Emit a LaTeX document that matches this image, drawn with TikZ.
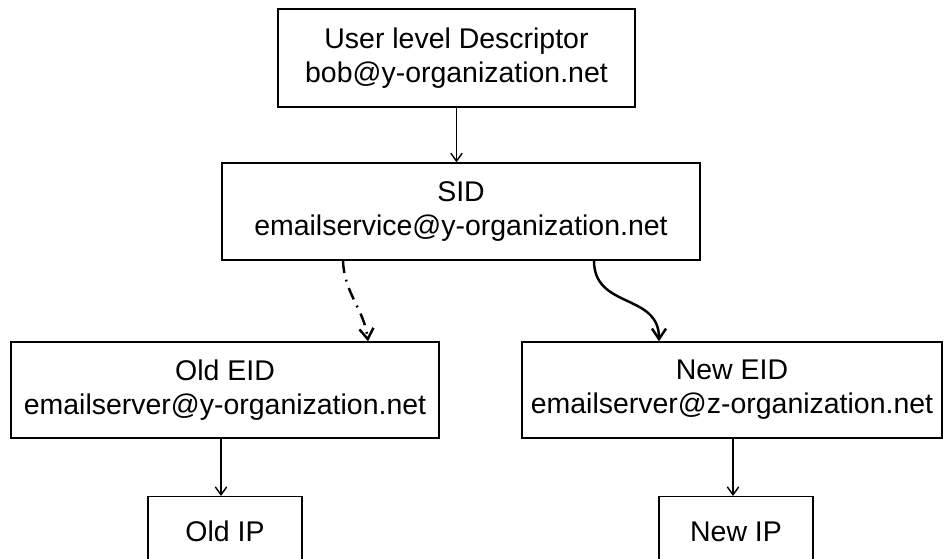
\documentclass[tikz,border=0pt]{standalone}
\usepackage{fontspec}
\setmainfont{Liberation Sans}
\usepackage{tikz}
\usetikzlibrary{arrows.meta,shadows}

\tikzset{
  idbox/.style={shape=rectangle,draw=black,line width=0.8pt,fill=white,inner sep=0pt,align=center,
    drop shadow={shadow xshift=0.6pt,shadow yshift=-0.6pt,opacity=0.25},
    font=\fontsize{16.2}{19.4}\selectfont},
  ipbox/.style={idbox,text height=0.89cm,text depth=1.04cm},
  thin/.style={-{Straight Barb[length=4.5pt,width=6.5pt]},line width=0.8pt},
  thick/.style={-{Straight Barb[length=6pt,width=8pt]},line width=1.4pt}
}

\begin{document}
\begin{tikzpicture}
\clip (0,0) rectangle (18.86,11.18);

\node[idbox,minimum width=7.14cm,minimum height=1.96cm] (user) at (9.13,10.02) {User level Descriptor\\bob@y-organization.net};
\node[idbox,minimum width=9.56cm,minimum height=1.94cm] (sid) at (9.22,6.95) {SID\\emailservice@y-organization.net};
\node[idbox,minimum width=8.56cm,minimum height=1.92cm] (oldeid) at (4.50,3.38) {Old EID\\emailserver@y-organization.net};
\node[idbox,minimum width=8.40cm,minimum height=1.92cm] (neweid) at (14.64,3.38) {New EID\\emailserver@z-organization.net};
\node[ipbox,minimum width=3.08cm,anchor=north] (oldip) at (4.50,1.26) {Old IP};
\node[ipbox,minimum width=3.08cm,anchor=north] (newip) at (14.72,1.26) {New IP};

\path[thin] (user.south) edge (user.south |- sid.north);
\path[thick,dash pattern=on 7pt off 4pt on 1pt off 4pt] ([xshift=-2.36cm]sid.south) edge[out=-88,in=97] ([xshift=2.86cm]oldeid.north);
\path[thick] ([xshift=2.66cm]sid.south) edge[out=-90,in=90,looseness=1.2] ([xshift=-1.46cm]neweid.north);
\path[thin] ([xshift=-0.08cm]oldeid.south) edge ([xshift=-0.08cm]oldeid.south |- oldip.north);
\path[thin] ([xshift=0.02cm]neweid.south) edge ([xshift=0.02cm]neweid.south |- newip.north);

\end{tikzpicture}
\end{document}
